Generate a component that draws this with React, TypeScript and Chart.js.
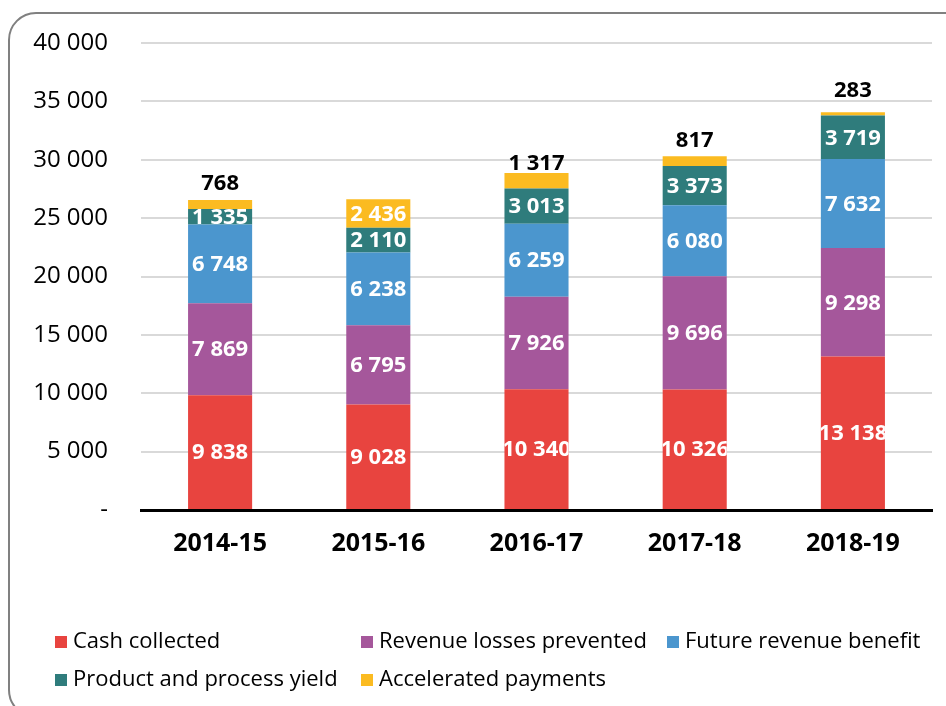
import React, { useEffect, useRef } from "react";
import { Chart, registerables } from "chart.js";

Chart.register(...registerables);

const categories = ["2014-15", "2015-16", "2016-17", "2017-18", "2018-19"];
const cashCollected = [9838, 9028, 10340, 10326, 13138];
const revenueLossesPrevented = [7869, 6795, 7926, 9696, 9298];
const futureRevenueBenefit = [6748, 6238, 6259, 6080, 7632];
const productProcessYield = [1335, 2110, 3013, 3373, 3719];
const acceleratedPayments = [768, 2436, 1317, 817, 283];

const seriesNames = [
  "Cash collected",
  "Revenue losses prevented",
  "Future revenue benefit",
  "Product and process yield",
  "Accelerated payments",
];
const seriesColors = ["#E8443F", "#A5579B", "#4B96CE", "#2F7C7C", "#FBBB21"];
const yMin = 0;
const yMax = 40000;
const yStep = 5000;

const FONT = "'Open Sans', 'Noto Sans', sans-serif";

function fmt(n: number): string {
  if (n === 0) return "-";
  return String(n).replace(/\B(?=(\d{3})+(?!\d))/g, " ");
}

const labelPlugin = {
  id: "barLabels",
  afterDatasetsDraw(chart: any) {
    const ctx = chart.ctx;
    const n = chart.data.datasets.length;
    chart.data.datasets.forEach((ds: any, di: number) => {
      const meta = chart.getDatasetMeta(di);
      meta.data.forEach((bar: any, i: number) => {
        const v = ds.data[i] as number;
        const { x, y, base, width } = bar.getProps(["x", "y", "base", "width"], true);
        ctx.save();
        ctx.font = `bold 22px ${FONT}`;
        ctx.textAlign = "center";
        ctx.textBaseline = "middle";
        const text = fmt(v);
        if (di === n - 1 && v < 2000) {
          ctx.fillStyle = "#000";
          ctx.fillText(text, x, base - 25);
        } else {
          const top = Math.min(y, base);
          const h = Math.abs(base - y);
          ctx.beginPath();
          ctx.rect(x - width / 2, top, width, h);
          ctx.clip();
          ctx.fillStyle = "#fff";
          ctx.fillText(text, x, (y + base) / 2 + 1);
        }
        ctx.restore();
      });
    });
  },
};

const legendPlugin = {
  id: "gridLegend",
  afterDraw(chart: any) {
    const ctx = chart.ctx;
    ctx.save();
    ctx.font = `22px ${FONT}`;
    ctx.textBaseline = "middle";
    ctx.textAlign = "left";
    chart.data.datasets.forEach((ds: any, i: number) => {
      const col = i % 3;
      const row = Math.floor(i / 3);
      const x = 55 + col * 306;
      const y = 642 + row * 38;
      ctx.fillStyle = ds.backgroundColor;
      ctx.fillRect(x, y - 6, 12, 12);
      ctx.fillStyle = "#000";
      ctx.fillText(ds.label, x + 18, y);
    });
    ctx.restore();
  },
};

export default function App() {
  const canvasRef = useRef<HTMLCanvasElement | null>(null);

  useEffect(() => {
    if (!canvasRef.current) return;
    const series = [
      cashCollected,
      revenueLossesPrevented,
      futureRevenueBenefit,
      productProcessYield,
      acceleratedPayments,
    ];
    const chart = new Chart(canvasRef.current, {
      type: "bar",
      data: {
        labels: categories,
        datasets: series.map((d, i) => ({
          label: seriesNames[i],
          data: d,
          backgroundColor: seriesColors[i],
          borderWidth: 0,
          categoryPercentage: 1,
          barPercentage: 0.405,
        })),
      },
      options: {
        animation: false,
        responsive: true,
        maintainAspectRatio: false,
        layout: { padding: { left: 0, right: 14, top: 43, bottom: 130 } },
        plugins: {
          legend: { display: false },
          tooltip: { enabled: false },
        },
        scales: {
          x: {
            stacked: true,
            grid: { display: false, drawTicks: false },
            border: { display: true, color: "#000", width: 3 },
            ticks: {
              color: "#000",
              font: { family: FONT, size: 25, weight: "bold" },
              padding: 19,
            },
            afterFit: (s: any) => {
              s.height = 66;
            },
          },
          y: {
            stacked: true,
            min: yMin,
            max: yMax,
            grid: {
              color: "#D9D9D9",
              lineWidth: 2,
              drawTicks: true,
              tickLength: 33,
              tickColor: "rgba(0,0,0,0)",
            },
            border: { display: false },
            ticks: {
              stepSize: yStep,
              color: "#000",
              font: { family: FONT, size: 24 },
              padding: 0,
              callback: (v: any) => fmt(Number(v)),
            },
            afterFit: (s: any) => {
              s.width = 141;
            },
          },
        },
      },
      plugins: [labelPlugin, legendPlugin],
    });
    return () => chart.destroy();
  }, []);

  return (
    <div
      style={{
        position: "fixed",
        left: 0,
        top: 0,
        width: 946,
        height: 706,
        overflow: "hidden",
        background: "#fff",
      }}
    >
      <div
        style={{
          position: "absolute",
          left: 8,
          top: 12,
          width: 980,
          height: 706,
          boxSizing: "border-box",
          border: "2px solid #808080",
          borderRadius: 28,
        }}
      />
      <div style={{ position: "absolute", left: 0, top: 0, width: 946, height: 706 }}>
        <canvas ref={canvasRef} />
      </div>
    </div>
  );
}
